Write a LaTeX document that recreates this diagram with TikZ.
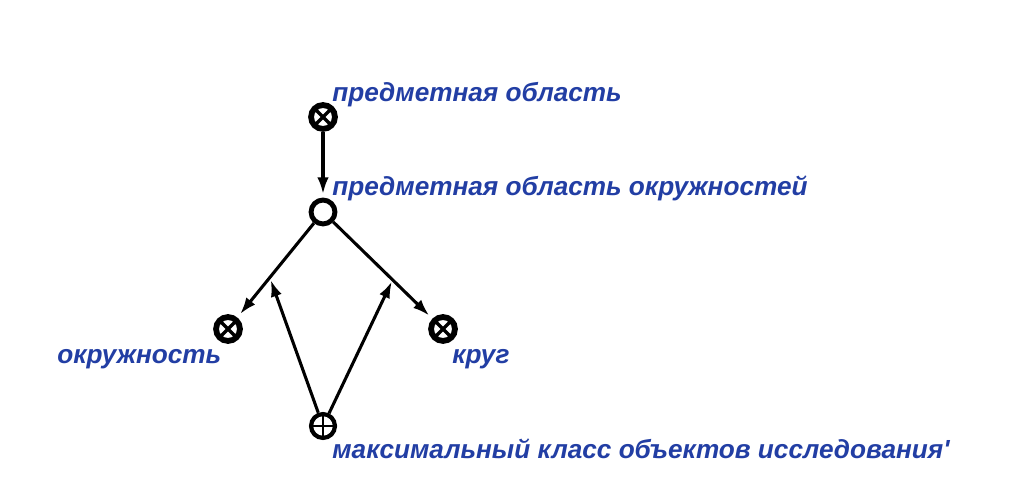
\documentclass[tikz,border=0pt]{standalone}
\usepackage{fontspec}
\setmainfont{Liberation Sans}
\usepackage{tikz}
\usetikzlibrary{arrows.meta, calc}
\definecolor{labelblue}{RGB}{34,62,164}

\begin{document}
\begin{tikzpicture}[x=0.02cm, y=-0.02cm,
    every node/.style={inner sep=0pt},
    ringnode/.style={circle, draw, line width=2.8pt, minimum size=13.6pt},
    xnode/.style={ringnode, line width=3.3pt, path picture={
        \draw[line width=2pt] (path picture bounding box.north west) -- (path picture bounding box.south east)
            (path picture bounding box.north east) -- (path picture bounding box.south west);}},
    plusnode/.style={ringnode, line width=2.4pt, path picture={
        \draw[line width=1.2pt] (path picture bounding box.north) -- (path picture bounding box.south)
            (path picture bounding box.west) -- (path picture bounding box.east);}},
    lbl/.style={text=labelblue, font=\fontsize{14.9}{18}\selectfont\bfseries\itshape, anchor=base west},
    edgearrow/.style={-{Latex[length=9.5pt,width=6.5pt]}, line width=1.75pt}]
    % Frame
    \useasboundingbox (0,0) rectangle (1026,492);
    % Concepts
    \node[xnode] (dom) at (323,117) {};
    \node[ringnode] (circdom) at (323,212) {};
    \node[xnode] (circ) at (228,329) {};
    \node[xnode] (disk) at (443,329) {};
    \node[plusnode] (maxcls) at (323,426) {};
    % Labels
    \node[lbl] (ldom) at (332,102) {предметная область};
    \node[lbl] (lcircdom) at (332,196) {предметная область окружностей};
    \node[lbl] (lcirc) at (57,364) {окружность};
    \node[lbl] (ldisk) at (452,364) {круг};
    \node[lbl] (lmaxcls) at (332,458) {максимальный класс объектов исследования\textquotesingle};
    % Links
    \draw[edgearrow, shorten >=2pt] (dom) -- (circdom);
    \draw[edgearrow, shorten >=2.5pt] (circdom) -- (circ);
    \draw[edgearrow, shorten >=2.5pt] (circdom) -- (disk);
    \coordinate (onleft) at ($(circdom)!0.56!(circ)$);
    \coordinate (onright) at ($(circdom)!0.58!(disk)$);
    \draw[edgearrow, shorten >=1.5pt] (maxcls) -- (onleft);
    \draw[edgearrow, shorten >=1pt] (maxcls) -- (onright);
\end{tikzpicture}
\end{document}
